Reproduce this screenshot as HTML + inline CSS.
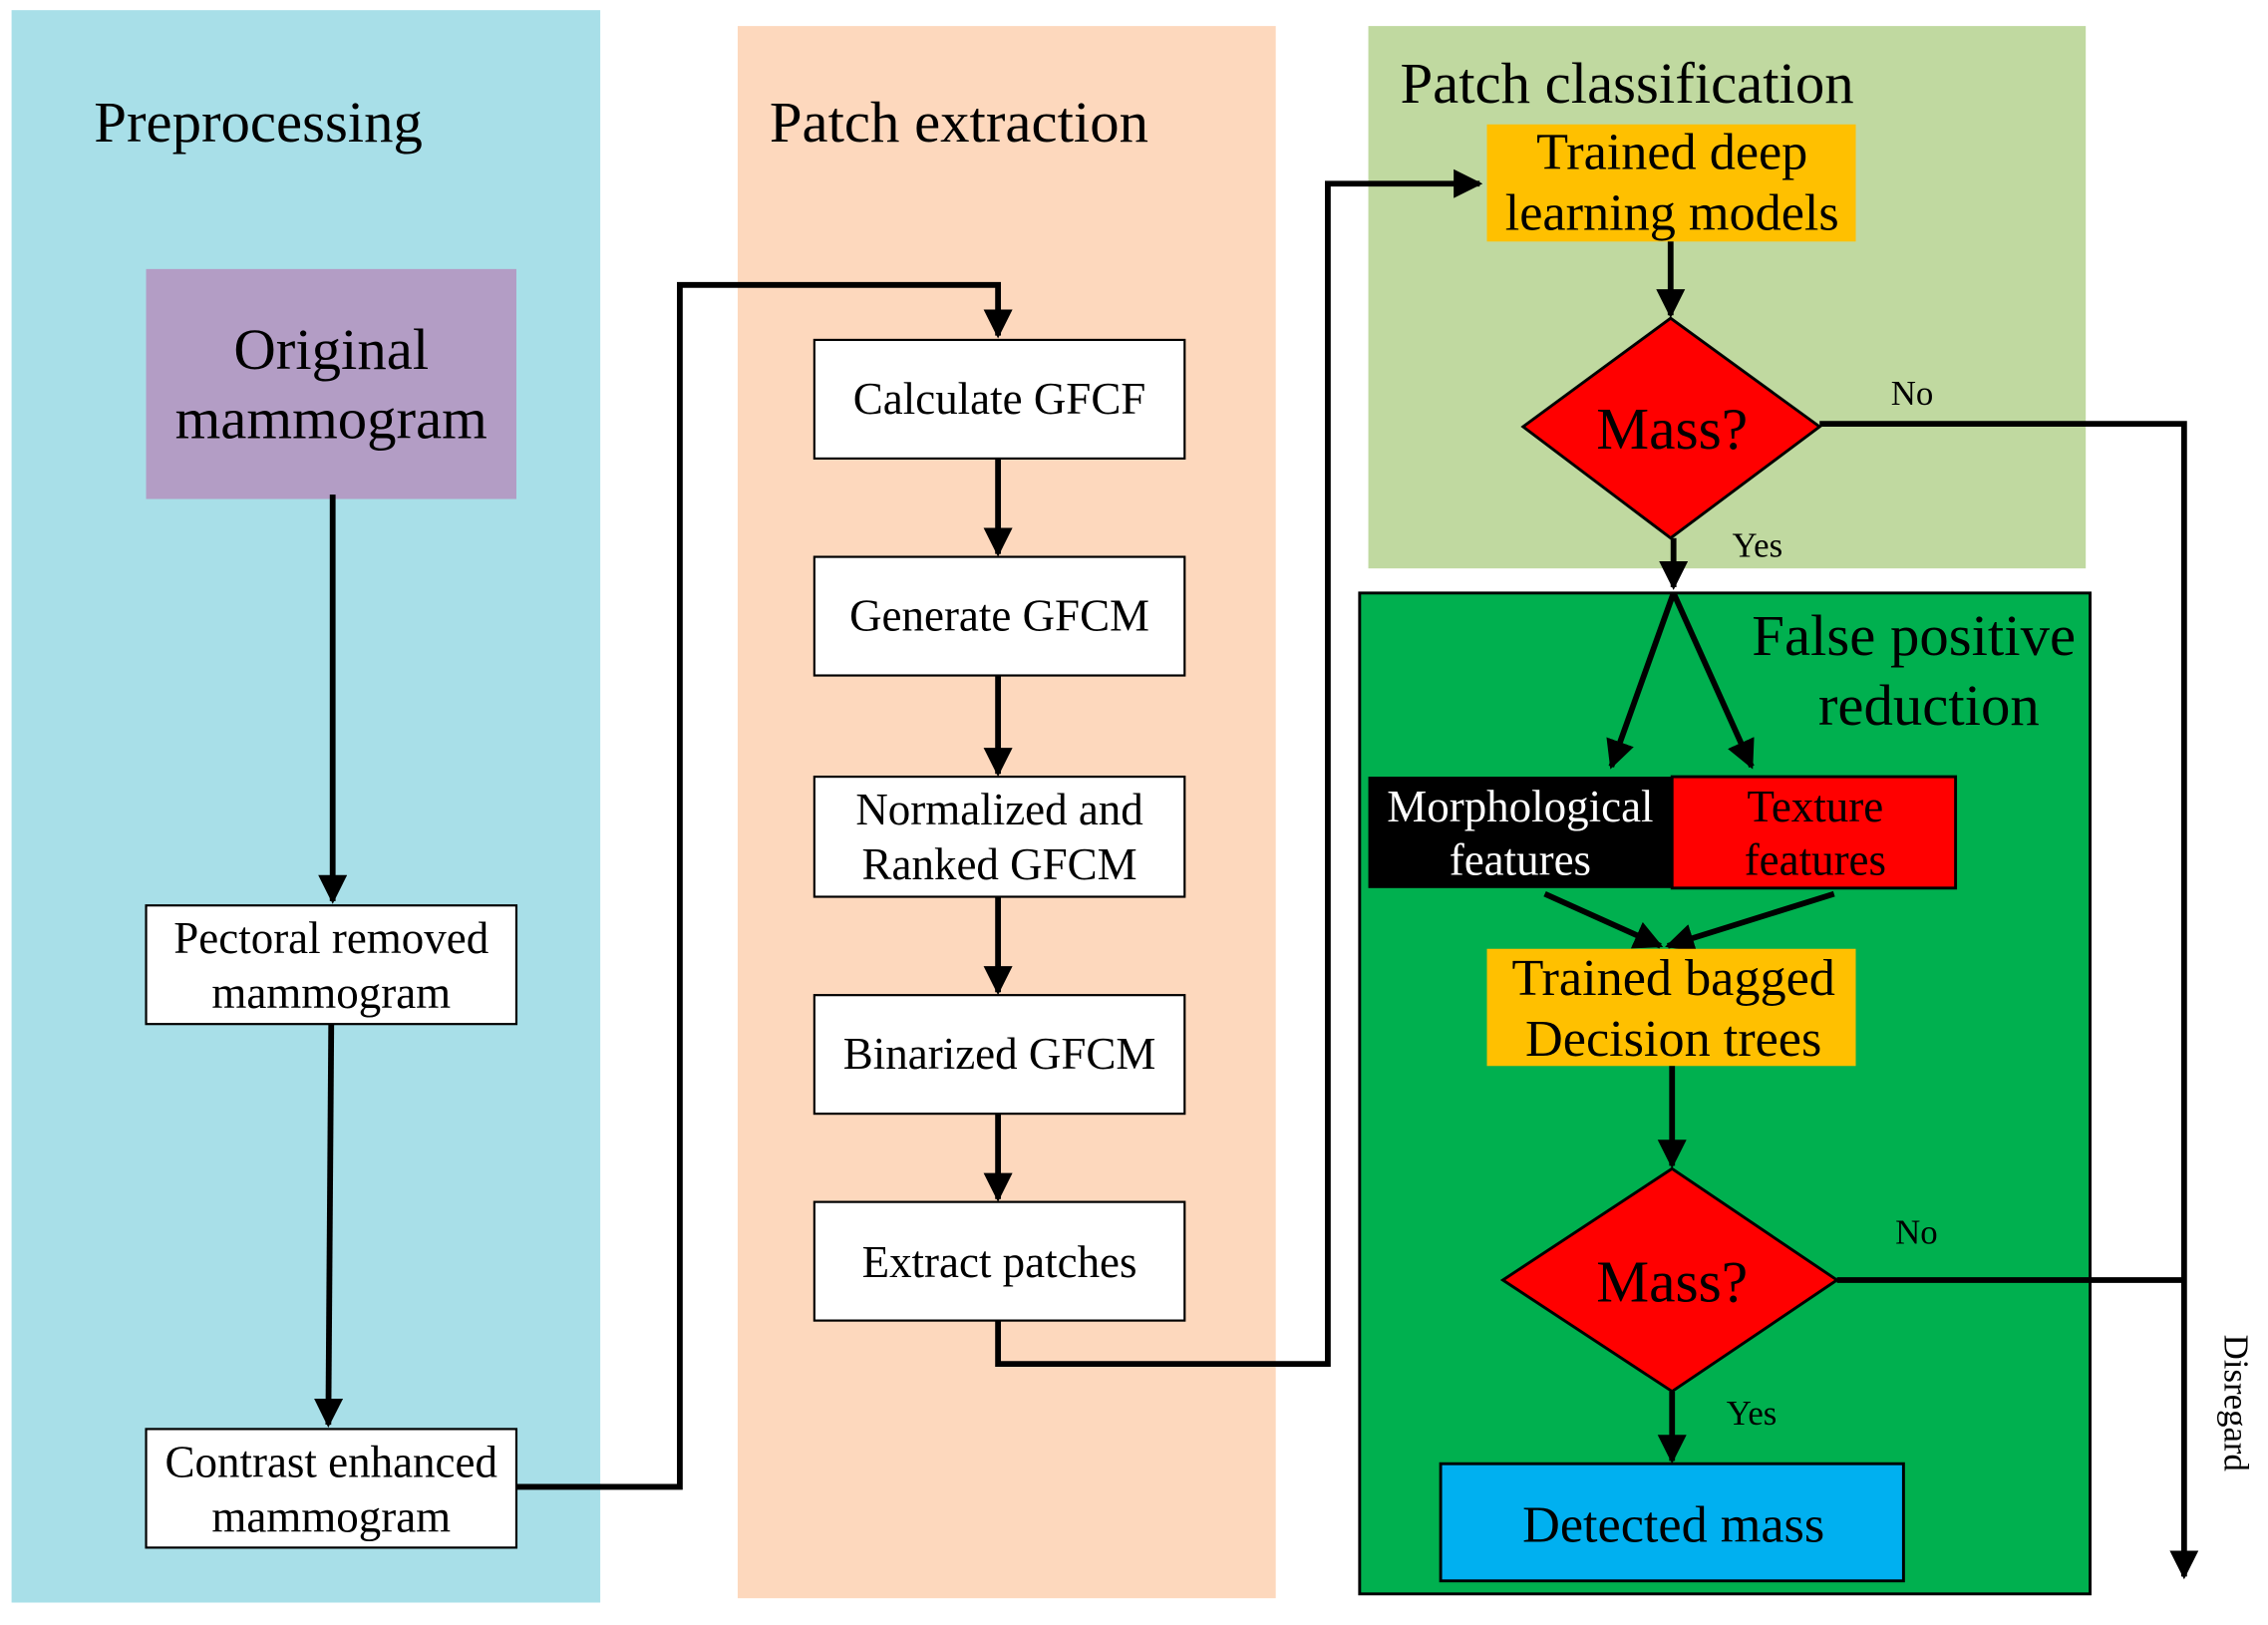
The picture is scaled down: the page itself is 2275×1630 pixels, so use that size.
<!DOCTYPE html>
<html><head><meta charset="utf-8"><style>
html,body{margin:0;padding:0;background:#fff;}
svg{display:block;}
text{font-family:"Liberation Serif",serif;}
</style></head><body>
<svg width="2275" height="1630" viewBox="0 0 1568 1123.5" preserveAspectRatio="none" xmlns="http://www.w3.org/2000/svg">
<defs>
<marker id="a" viewBox="0 0 10 10" refX="9" refY="5" markerWidth="5" markerHeight="5" orient="auto" markerUnits="strokeWidth"><path d="M0,0 L10,5 L0,10 z" fill="#000"/></marker>
</defs>
<rect x="0" y="0" width="1568" height="1123.5" fill="#fff"/>
<rect x="8" y="7" width="407" height="1101" fill="#a8dfe8"/>
<rect x="510" y="18" width="372" height="1087" fill="#fdd8bd"/>
<rect x="946" y="18" width="496" height="375" fill="#c0d9a0"/>
<rect x="940" y="410" width="505" height="692" fill="#00b04f" stroke="#000" stroke-width="2"/>
<text x="65" y="98" font-size="40.5">Preprocessing</text>
<text x="532" y="98" font-size="40.5">Patch extraction</text>
<text x="968" y="71" font-size="40.5">Patch classification</text>
<text x="1435" y="453" font-size="40.5" text-anchor="end">False positive</text>
<text x="1410" y="501" font-size="40.5" text-anchor="end">reduction</text>
<rect x="101" y="186" width="256" height="159" fill="#b39dc5"/>
<text x="229" y="255" font-size="40.5" text-anchor="middle">Original</text>
<text x="229" y="303" font-size="40.5" text-anchor="middle">mammogram</text>
<rect x="101" y="626" width="256" height="82" fill="#fff" stroke="#000" stroke-width="1.5"/>
<text x="229" y="659" font-size="31" text-anchor="middle">Pectoral removed</text>
<text x="229" y="697" font-size="31" text-anchor="middle">mammogram</text>
<rect x="101" y="988" width="256" height="82" fill="#fff" stroke="#000" stroke-width="1.5"/>
<text x="229" y="1021" font-size="31" text-anchor="middle">Contrast enhanced</text>
<text x="229" y="1059" font-size="31" text-anchor="middle">mammogram</text>
<g stroke="#000" stroke-width="4" fill="none">
<line x1="230" y1="342" x2="230" y2="623" marker-end="url(#a)"/>
<line x1="229" y1="708" x2="227" y2="985" marker-end="url(#a)"/>
<polyline points="357,1028 470,1028 470,197 690,197 690,232" marker-end="url(#a)"/>
</g>
<g fill="#fff" stroke="#000" stroke-width="1.5">
<rect x="563" y="235" width="256" height="82"/>
<rect x="563" y="385" width="256" height="82"/>
<rect x="563" y="537" width="256" height="83"/>
<rect x="563" y="688" width="256" height="82"/>
<rect x="563" y="831" width="256" height="82"/>
</g>
<g font-size="31" text-anchor="middle">
<text x="691" y="286">Calculate GFCF</text>
<text x="691" y="436">Generate GFCM</text>
<text x="691" y="570">Normalized and</text>
<text x="691" y="608">Ranked GFCM</text>
<text x="691" y="739">Binarized GFCM</text>
<text x="691" y="883">Extract patches</text>
</g>
<g stroke="#000" stroke-width="4" fill="none">
<line x1="690" y1="317" x2="690" y2="383" marker-end="url(#a)"/>
<line x1="690" y1="467" x2="690" y2="535" marker-end="url(#a)"/>
<line x1="690" y1="620" x2="690" y2="686" marker-end="url(#a)"/>
<line x1="690" y1="770" x2="690" y2="829" marker-end="url(#a)"/>
<polyline points="690,913 690,943 918,943 918,127 1023,127" marker-end="url(#a)"/>
</g>
<rect x="1028" y="86" width="255" height="81" fill="#ffc000"/>
<text x="1156" y="117" font-size="36" text-anchor="middle">Trained deep</text>
<text x="1156" y="159" font-size="36" text-anchor="middle">learning models</text>
<polygon points="1155,220 1258,295 1155,372 1053,295" fill="#f00" stroke="#000" stroke-width="2"/>
<text x="1156" y="310" font-size="41" text-anchor="middle">Mass?</text>
<text x="1322" y="280" font-size="24" text-anchor="middle">No</text>
<text x="1215" y="385" font-size="24" text-anchor="middle">Yes</text>
<g stroke="#000" stroke-width="4" fill="none">
<line x1="1155" y1="167" x2="1155" y2="218" marker-end="url(#a)"/>
<polyline points="1258,293 1510,293 1510,1090" marker-end="url(#a)"/>
<line x1="1157" y1="372" x2="1157" y2="406" marker-end="url(#a)"/>
<line x1="1157" y1="410" x2="1114" y2="530" marker-end="url(#a)"/>
<line x1="1157" y1="410" x2="1211" y2="530" marker-end="url(#a)"/>
</g>
<text x="1538" y="970" font-size="24" text-anchor="middle" transform="rotate(90 1538 970)">Disregard</text>
<rect x="946" y="537" width="210" height="77" fill="#000"/>
<rect x="1156" y="537" width="196" height="77" fill="#f00" stroke="#000" stroke-width="2"/>
<text x="1051" y="568" font-size="31" text-anchor="middle" fill="#fff">Morphological</text>
<text x="1051" y="605" font-size="31" text-anchor="middle" fill="#fff">features</text>
<text x="1255" y="568" font-size="31" text-anchor="middle">Texture</text>
<text x="1255" y="605" font-size="31" text-anchor="middle">features</text>
<g stroke="#000" stroke-width="4" fill="none">
<line x1="1068" y1="618" x2="1148" y2="654" marker-end="url(#a)"/>
<line x1="1268" y1="618" x2="1153" y2="654" marker-end="url(#a)"/>
</g>
<rect x="1028" y="656" width="255" height="81" fill="#ffc000"/>
<text x="1157" y="688" font-size="36" text-anchor="middle">Trained bagged</text>
<text x="1157" y="730" font-size="36" text-anchor="middle">Decision trees</text>
<polygon points="1156,808 1270,885 1156,962 1039,885" fill="#f00" stroke="#000" stroke-width="2"/>
<text x="1156" y="900" font-size="41" text-anchor="middle">Mass?</text>
<text x="1325" y="860" font-size="24" text-anchor="middle">No</text>
<text x="1211" y="985" font-size="24" text-anchor="middle">Yes</text>
<g stroke="#000" stroke-width="4" fill="none">
<line x1="1156" y1="737" x2="1156" y2="806" marker-end="url(#a)"/>
<line x1="1270" y1="885" x2="1510" y2="885"/>
<line x1="1156" y1="962" x2="1156" y2="1010" marker-end="url(#a)"/>
</g>
<rect x="996" y="1012" width="320" height="81" fill="#00b0f0" stroke="#000" stroke-width="2"/>
<text x="1157" y="1066" font-size="36" text-anchor="middle">Detected mass</text>
</svg>
</body></html>
